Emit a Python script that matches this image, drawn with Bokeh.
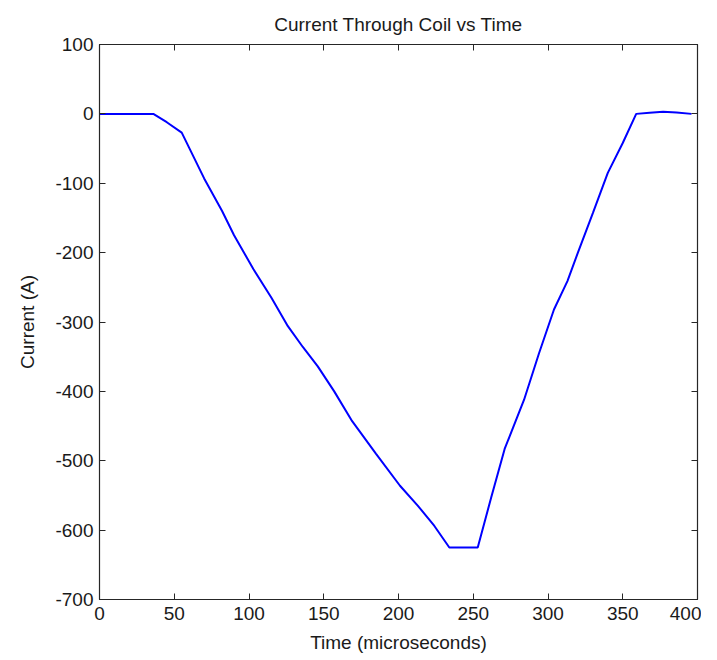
from bokeh.plotting import figure
from bokeh.models import LinearAxis, Range1d, FixedTicker, ColumnDataSource
from bokeh.embed import file_html
from bokeh.resources import INLINE

# Data
time_us = [0, 36, 45, 55, 70, 82, 90, 103, 115, 126, 136, 146, 157, 169, 185,
           201, 213, 224, 234, 253, 262, 271, 284, 294, 304, 313, 320, 330,
           340, 350, 359, 368, 377, 386, 396]
current_a = [0, 0, -12, -27, -93, -140, -175, -224, -265, -306, -336, -364,
             -400, -443, -490, -536, -565, -594, -625, -625, -553, -483, -412,
             -345, -282, -241, -200, -143, -85, -42, 0, 1.5, 3, 2, 0]

x_ticks = [0, 50, 100, 150, 200, 250, 300, 350, 400]
y_ticks = [100, 0, -100, -200, -300, -400, -500, -600, -700]

FONT = "Liberation Sans"
FS = "19px"

p = figure(
    frame_width=598, frame_height=555,
    min_border_left=99, min_border_top=44, min_border_right=4, min_border_bottom=56,
    x_range=Range1d(0, 400), y_range=Range1d(-700, 100),
    output_backend="svg", toolbar_location=None,
    title="Current Through Coil vs Time",
)
p.background_fill_color = "white"
p.border_fill_color = "white"
p.outline_line_color = "#262626"
p.outline_line_width = 1.2
p.grid.visible = False

p.title.align = "center"
p.title.text_font = FONT
p.title.text_font_size = FS
p.title.text_font_style = "normal"
p.title.text_color = "#1a1a1a"
p.title.standoff = 20

src = ColumnDataSource(dict(t=time_us, i=current_a))
p.line("t", "i", source=src, line_color="#0000ff", line_width=2)

def style(ax, labels=True):
    ax.axis_line_color = "#262626"
    ax.major_tick_in = 6
    ax.major_tick_out = 0
    ax.minor_tick_line_color = None
    ax.major_tick_line_color = "#262626"
    ax.major_label_text_font = FONT
    ax.major_label_text_font_size = FS
    ax.major_label_text_color = "#1a1a1a"
    ax.axis_label_text_font = FONT
    ax.axis_label_text_font_size = FS
    ax.axis_label_text_font_style = "normal"
    ax.axis_label_text_color = "#1a1a1a"
    if not labels:
        ax.major_label_text_font_size = "0px"
        ax.major_label_text_color = None
        ax.major_label_standoff = 0
        ax.axis_label_standoff = 0

p.xaxis.ticker = FixedTicker(ticks=x_ticks)
p.yaxis.ticker = FixedTicker(ticks=y_ticks)
p.yaxis.major_label_overrides = {v: str(v) for v in y_ticks}
p.xaxis.axis_label = "Time (microseconds)"
p.yaxis.axis_label = "Current (A)"
style(p.xaxis[0])
style(p.yaxis[0])
p.xaxis.major_label_standoff = 7
p.yaxis.major_label_standoff = 6
p.xaxis.axis_label_standoff = 9
p.yaxis.axis_label_standoff = 14

top = LinearAxis(ticker=FixedTicker(ticks=x_ticks))
style(top, labels=False)
p.add_layout(top, "above")
right = LinearAxis(ticker=FixedTicker(ticks=y_ticks))
style(right, labels=False)
p.add_layout(right, "right")

open("out.html", "w").write(file_html(p, INLINE))
